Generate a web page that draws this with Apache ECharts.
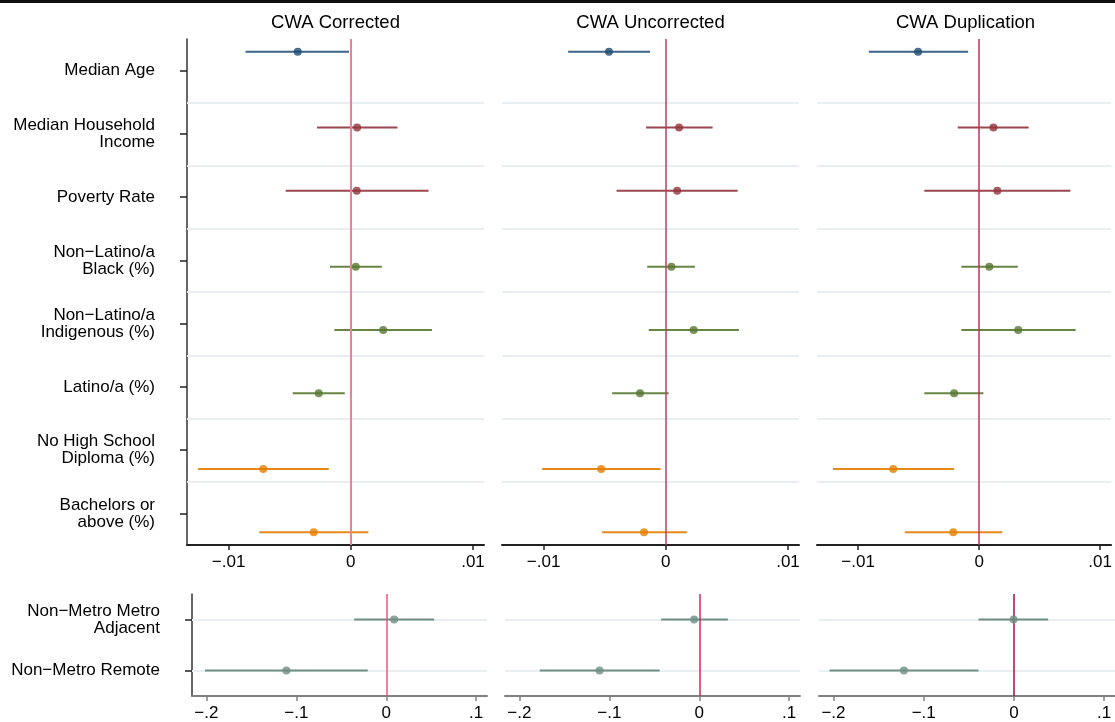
<!DOCTYPE html>
<html>
<head>
<meta charset="utf-8">
<script src="https://cdn.jsdelivr.net/npm/echarts@6/dist/echarts.min.js"></script>
<style>
  html, body { margin: 0; padding: 0; background: #fff; }
  #chart { width: 1115px; height: 722px; }
</style>
</head>
<body>
<div id="chart"></div>
<script>
// rows of the upper block, with the colour group each row belongs to
const rowLabels = [
  "Median Age",
  "Median Household\nIncome",
  "Poverty Rate",
  "Non\u2212Latino/a\nBlack (%)",
  "Non\u2212Latino/a\nIndigenous (%)",
  "Latino/a (%)",
  "No High School\nDiploma (%)",
  "Bachelors or\nabove (%)",
];
const rowGroup = [0, 1, 1, 2, 2, 2, 3, 3];
const panelTitles = ["CWA Corrected", "CWA Uncorrected", "CWA Duplication"];

// CWA Corrected
const corrEst = [-0.00434, 0.00052, 0.00049, 0.00041, 0.00265, -0.00262, -0.00716, -0.00303];
const corrLo = [-0.00861, -0.00276, -0.00533, -0.0017, -0.00134, -0.00475, -0.01249, -0.00749];
const corrHi = [-0.00014, 0.00382, 0.00636, 0.00254, 0.00664, -0.00049, -0.0018, 0.00144];
// CWA Uncorrected
const uncEst = [-0.00465, 0.00109, 0.00093, 0.00046, 0.00228, -0.00211, -0.00529, -0.00178];
const uncLo = [-0.00799, -0.00161, -0.00403, -0.00152, -0.00139, -0.00439, -0.01011, -0.00521];
const uncHi = [-0.00129, 0.00383, 0.00588, 0.00238, 0.00598, 0.00024, -0.00042, 0.00172];
// CWA Duplication
const dupEst = [-0.00505, 0.00118, 0.0015, 0.00084, 0.00323, -0.00207, -0.0071, -0.00214];
const dupLo = [-0.00912, -0.00177, -0.00453, -0.00147, -0.00147, -0.00453, -0.01208, -0.00615];
const dupHi = [-0.00091, 0.00409, 0.00754, 0.00319, 0.00797, 0.00035, -0.00207, 0.00191];

// lower block
const metroLabels = ["Non\u2212Metro Metro\nAdjacent", "Non\u2212Metro Remote"];
const metroCorrEst = [0.0088, -0.111];
const metroCorrLo = [-0.0357, -0.2016];
const metroCorrHi = [0.0532, -0.0206];
const metroUncEst = [-0.0057, -0.1109];
const metroUncLo = [-0.0424, -0.1774];
const metroUncHi = [0.0318, -0.044];
const metroDupEst = [-0.0004, -0.1219];
const metroDupLo = [-0.0392, -0.2043];
const metroDupHi = [0.0379, -0.0392];

const topTicks = [-0.01, 0, 0.01];
const bottomTicks = [-0.2, -0.1, 0, 0.1];

const groupColors = ["#1a476f", "#90353b", "#55752f", "#e37e00"];
const barColors = ["#3e6488", "#9a474d", "#678443", "#e7891a"];
const metroColor = "#6e8e84";
const font = '"Liberation Sans", Arial, Helvetica, sans-serif';

const topPanels = [
  { est: corrEst, lo: corrLo, hi: corrHi, zero: "#e8819b" },
  { est: uncEst, lo: uncLo, hi: uncHi, zero: "#c23d5f" },
  { est: dupEst, lo: dupLo, hi: dupHi, zero: "#b8355a" },
];
const bottomPanels = [
  { est: metroCorrEst, lo: metroCorrLo, hi: metroCorrHi, zero: "#e35878" },
  { est: metroUncEst, lo: metroUncLo, hi: metroUncHi, zero: "#d5285a" },
  { est: metroDupEst, lo: metroDupLo, hi: metroDupHi, zero: "#a80f3c" },
];

const topLefts = [187, 502, 817];
const bottomLefts = [192, 505, 819];

function tickText(v) {
  v = +v.toFixed(4);
  if (v === 0) return "0";
  return (v < 0 ? "\u2212" : "") + String(Math.abs(v)).replace(/^0/, "");
}

const grids = [];
const xAxes = [];
const yAxes = [];
const series = [];
const graphics = [];

function addPanel(idx, left, top, width, height, panel, opts) {
  grids.push({ left: left, top: top, width: width, height: height });
  const n = opts.labels.length;
  const rows = opts.labels.map((_, k) => k + 1);
  xAxes.push({
    gridIndex: idx,
    type: "value",
    min: opts.xmin,
    max: opts.xmax,
    axisLine: { onZero: false, lineStyle: { color: opts.axisColor, width: 2 } },
    axisTick: { customValues: opts.ticks, length: 5, lineStyle: { color: opts.axisColor, width: 1.5 } },
    axisLabel: {
      customValues: opts.ticks, formatter: tickText, margin: 9,
      color: "#000", fontSize: 17, fontFamily: font,
    },
    splitLine: { show: false },
  });
  yAxes.push({
    gridIndex: idx,
    type: "value",
    min: 0.5,
    max: n + 0.5,
    inverse: true,
    show: opts.showY,
    axisLine: { show: true, onZero: false, lineStyle: { color: "#333", width: 1.5 } },
    axisTick: { customValues: rows, length: 7, lineStyle: { color: "#222", width: 1.5 } },
    axisLabel: {
      customValues: rows,
      formatter: (v) => opts.labels[Math.round(v) - 1],
      margin: 32, color: "#000", fontSize: 17, lineHeight: 17, fontFamily: font,
    },
    splitLine: { show: false },
  });

  const rowY = (k) => k + 1 + (opts.grouped ? (rowGroup[k] - 1.5) * 0.2 : 0);

  // light horizontal rules
  series.push({
    type: "line", xAxisIndex: idx, yAxisIndex: idx, data: [], z: 1,
    markLine: {
      silent: true, symbol: ["none", "none"], label: { show: false }, animation: false, z: 1,
      lineStyle: { color: "#e9eff1", width: 2, type: "solid" },
      data: opts.rules.map((r) => ({ yAxis: r })),
    },
  });
  // confidence intervals
  series.push({
    type: "custom", xAxisIndex: idx, yAxisIndex: idx, z: 3,
    data: panel.est.map((_, k) => [panel.lo[k], panel.hi[k], rowY(k), k]),
    encode: { x: [0, 1], y: 2 },
    renderItem: function (params, api) {
      const a = api.coord([api.value(0), api.value(2)]);
      const b = api.coord([api.value(1), api.value(2)]);
      const k = api.value(3);
      return {
        type: "line",
        shape: { x1: a[0], y1: a[1], x2: b[0], y2: b[1] },
        style: { stroke: opts.grouped ? barColors[rowGroup[k]] : metroColor, lineWidth: 2 },
      };
    },
  });
  // zero reference line
  series.push({
    type: "line", xAxisIndex: idx, yAxisIndex: idx, data: [], z: 4,
    markLine: {
      silent: true, symbol: ["none", "none"], label: { show: false }, animation: false, z: 4,
      lineStyle: { color: panel.zero, width: opts.grouped && idx === 0 ? 2 : 1.5, type: "solid" },
      data: [{ xAxis: 0 }],
    },
  });
  // point estimates
  series.push({
    type: "scatter", xAxisIndex: idx, yAxisIndex: idx, z: 6,
    symbol: "circle", symbolSize: 8,
    data: panel.est.map((v, k) => ({
      value: [v, rowY(k)],
      itemStyle: { color: opts.grouped ? groupColors[rowGroup[k]] : metroColor },
    })),
  });
}

topPanels.forEach((p, i) => {
  addPanel(i, topLefts[i], 39, i === 2 ? 298 : 297, 506, p, {
    labels: rowLabels, grouped: true, showY: i === 0,
    xmin: -0.0134, xmax: 0.0109, ticks: topTicks, axisColor: "#222",
    rules: rowLabels.slice(1).map((_, k) => k + 1.5),
  });
  graphics.push({
    type: "text",
    style: {
      text: panelTitles[i], x: topLefts[i] + 148.5, y: 23,
      textAlign: "center", textVerticalAlign: "middle",
      font: "18.5px " + font, fill: "#000",
    },
  });
});

bottomPanels.forEach((p, i) => {
  addPanel(i + 3, bottomLefts[i], 594, i === 2 ? 296 : 295, 104, p, {
    labels: metroLabels, grouped: false, showY: i === 0,
    xmin: -0.216, xmax: 0.112, ticks: bottomTicks, axisColor: "#808080",
    rules: metroLabels.map((_, k) => k + 1),
  });
});

graphics.push({
  type: "rect",
  shape: { x: 0, y: 0, width: 1115, height: 3 },
  style: { fill: "#111" },
});

const chart = echarts.init(document.getElementById("chart"));
chart.setOption({
  backgroundColor: "#fff",
  animation: false,
  grid: grids,
  xAxis: xAxes,
  yAxis: yAxes,
  series: series,
  graphic: graphics,
});
</script>
</body>
</html>
